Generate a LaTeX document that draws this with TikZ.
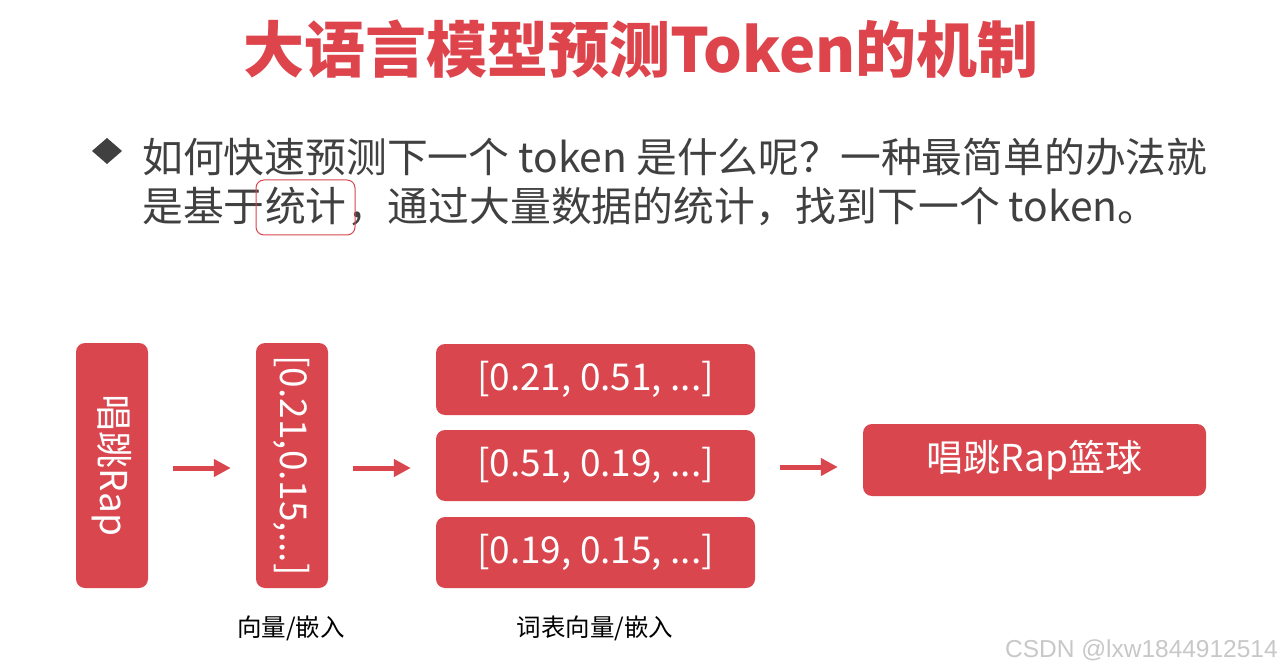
\documentclass[tikz,border=0pt]{standalone}
\usepackage{fontspec}
\setmainfont{Noto Sans CJK SC}
\newfontfamily\wmfont{Liberation Sans}
\usetikzlibrary{arrows.meta}
\definecolor{boxred}{RGB}{217,70,78}
\definecolor{titlered}{RGB}{222,68,75}
\definecolor{txtgray}{RGB}{64,64,64}
\definecolor{wmgray}{RGB}{200,200,200}
\tikzset{
  redbox/.style={fill=boxred, draw=none, rounded corners=9pt, text=white, font=\fontsize{37}{42}\selectfont, inner sep=0pt, align=center},
  vtext/.style={text=white, font=\fontsize{37}{42}\selectfont, rotate=-90, inner sep=0pt},
  flowarrow/.style={draw=boxred, line width=5pt, -{Triangle[length=17pt,width=17pt]}, shorten >=25pt, shorten <=25pt},
  bodytext/.style={text=txtgray, font=\fontsize{40.8}{46}\selectfont, inner sep=0pt, anchor=base west},
  caption/.style={text=black, font=\fontsize{24.5}{28}\selectfont, inner sep=0pt}
}
\begin{document}
\begin{tikzpicture}[x=1pt,y=-1pt]
\useasboundingbox[fill=white] (0,0) rectangle (1283,671);
% title
\node[text=titlered, font=\fontsize{61}{66}\selectfont\bfseries, inner sep=0pt, anchor=base] (title) at (641,73) {大语言模型预测Token的机制};
% bullet
\fill[txtgray] (107,138) -- (122,151) -- (107,164) -- (92,151) -- cycle;
\node[bodytext] (l1) at (142,173) {如何快速预测下一个 token 是什么呢？一种最简单的办法就};
\node[bodytext] (l2a) at (142,222) {是基于};
\node[bodytext, anchor=base west] (l2b) at (l2a.base east) {统计};
\node[bodytext, anchor=base west] (l2c) at (l2b.base east) {，通过大量数据的统计，找到下一个 token。};
\coordinate (hlA) at (256,180);
\coordinate (hlB) at (355,235);
\draw[boxred, line width=1pt, rounded corners=8pt] (hlA) rectangle (hlB);
% boxes
\node[redbox, minimum width=72pt, minimum height=245pt] (b1) at (112,465.5) {};
\node[vtext] (t1) at (b1.center) {唱跳Rap};
\node[redbox, minimum width=72pt, minimum height=245pt] (b2) at (292,465.5) {};
\node[vtext] (t2) at (b2.center) {[0.21,0.15,...]};
\node[redbox, minimum width=319pt, minimum height=71pt] (b3a) at (595.5,379.5) {[0.21, 0.51, ...]};
\node[redbox, minimum width=319pt, minimum height=71pt] (b3b) at (595.5,465.5) {[0.51, 0.19, ...]};
\node[redbox, minimum width=319pt, minimum height=71pt] (b3c) at (595.5,552.5) {[0.19, 0.15, ...]};
\node[redbox, minimum width=343pt, minimum height=72pt] (b4) at (1034.5,460) {唱跳Rap篮球};
% arrows
\draw[flowarrow] (b1.east |- 0,468) -- (b2.west |- 0,468);
\draw[flowarrow] (b2.east |- 0,468) -- (b3b.west |- 0,468);
\draw[flowarrow] (b3b.east |- 0,467) -- (b4.west |- 0,467);
% captions
\node[caption] (c1) at (291,628) {向量/嵌入};
\node[caption] (c2) at (595,628) {词表向量/嵌入};
% watermark
\node[text=wmgray, font=\wmfont\fontsize{24.5}{28}\selectfont, inner sep=0pt, anchor=east] (wm) at (1278,650) {CSDN @lxw1844912514};
\end{tikzpicture}
\end{document}
